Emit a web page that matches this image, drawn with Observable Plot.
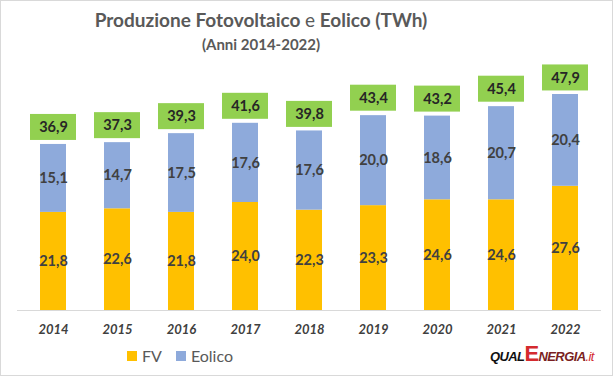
<!DOCTYPE html>
<html><head><meta charset="utf-8">
<script src="https://cdn.jsdelivr.net/npm/d3@7"></script>
<script src="https://cdn.jsdelivr.net/npm/@observablehq/plot@0.6"></script>
<style>
html,body{margin:0;padding:0;background:#fff;}
#wrap{position:relative;width:613px;height:376px;overflow:hidden;font-family:Lato,"Open Sans",sans-serif;}
#wrap svg{position:absolute;left:0;top:0;}
.frame{position:absolute;left:0;top:0;width:611px;height:374px;border:1px solid #d9d9d9;pointer-events:none;}
.title{position:absolute;left:0;width:522px;text-align:center;color:#595959;font-weight:700;white-space:nowrap;}
.legend{position:absolute;top:346px;left:127px;font-size:16px;color:#595959;display:flex;align-items:center;}
.legend .sw{display:inline-block;width:10px;height:10px;margin-right:5px;}
.logo{position:absolute;left:490px;top:341px;font-style:italic;font-weight:900;white-space:nowrap;font-family:"Liberation Sans",Arial,sans-serif;letter-spacing:-0.6px;}
</style></head>
<body><div id="wrap"></div>
<script>
const years = ["2014","2015","2016","2017","2018","2019","2020","2021","2022"];
const fv = [21.8,22.6,21.8,24.0,22.3,23.3,24.6,24.6,27.6];
const eolico = [15.1,14.7,17.5,17.6,17.6,20.0,18.6,20.7,20.4];
const totals = [36.9,37.3,39.3,41.6,39.8,43.4,43.2,45.4,47.9];
const series = ["FV","Eolico"];
const colors = ["#FFC000","#8EAADB"];

const fmt = v => v.toFixed(1).replace(".", ",");
const rows = [];
years.forEach((y,i) => {
  rows.push({year:y, serie:"FV", value:fv[i]});
  rows.push({year:y, serie:"Eolico", value:eolico[i]});
});
const tot = years.map((y,i) => ({year:y, total:totals[i]}));

const chart = Plot.plot({
  width: 613, height: 376,
  marginLeft: 17, marginRight: 12, marginTop: 85, marginBottom: 66,
  style: {fontFamily: "Lato, 'Open Sans', sans-serif", background: "transparent"},
  x: {domain: years, paddingInner: 0.6, paddingOuter: 0.31, axis: null},
  y: {domain: [0, 50], axis: null},
  color: {domain: series, range: colors},
  marks: [
    Plot.barY(rows, Plot.stackY({x: "year", y: "value", fill: "serie", z: "serie", order: series})),
    Plot.ruleY([0], {stroke: "#d9d9d9", strokeWidth: 1}),
    Plot.text(rows, Plot.stackY({x: "year", y: "value", z: "serie", order: series, text: d => fmt(d.value),
      fill: "#404040", fontWeight: "bold", fontSize: 14.5})),
    Plot.barY(tot, {x: "year", y1: "total", y2: "total", fill: "#92D050",
      insetTop: -30, insetBottom: 4, insetLeft: -10, insetRight: -10}),
    Plot.text(tot, {x: "year", y: "total", dy: -17, text: d => fmt(d.total),
      fill: "#262626", fontWeight: "bold", fontSize: 14.5}),
    Plot.text(years, {x: d => d, y: () => 0, dy: 19, text: d => d,
      fill: "#404040", fontWeight: "bold", fontStyle: "italic", fontSize: 13})
  ]
});
const wrap = document.getElementById("wrap");
wrap.appendChild(chart);

const t = document.createElement("div");
t.className = "title"; t.style.top = "8px"; t.style.fontSize = "19px";
t.innerHTML = 'Produzione Fotovoltaico <span style="font-weight:400">e</span> Eolico (TWh)';
wrap.appendChild(t);
const st = document.createElement("div");
st.className = "title"; st.style.top = "35px"; st.style.fontSize = "15px";
st.textContent = "(Anni 2014-2022)";
wrap.appendChild(st);

const lg = document.createElement("div");
lg.className = "legend";
lg.innerHTML = series.map((s,i) =>
  `<span style="display:inline-flex;align-items:center;margin-right:${i===0?14:0}px"><span class="sw" style="background:${colors[i]}"></span>${s}</span>`).join("");
wrap.appendChild(lg);

const logo = document.createElement("div");
logo.className = "logo";
logo.innerHTML = '<span style="font-size:13px;color:#111">QUAL</span><span style="font-size:22px;color:#d42a2e;font-style:normal">E</span><span style="font-size:13px;color:#7a1f22">NERGIA</span><span style="font-size:13px;color:#d42a2e;font-weight:400">.it</span>';
wrap.appendChild(logo);

const fr = document.createElement("div"); fr.className = "frame"; wrap.appendChild(fr);
</script></body></html>
